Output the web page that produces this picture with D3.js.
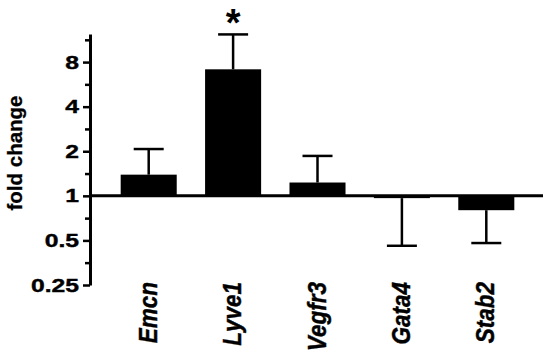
<!DOCTYPE html>
<html>
<head>
<meta charset="utf-8">
<script src="https://cdn.jsdelivr.net/npm/d3@7"></script>
<style>
    body { margin: 0; background: #fff; }
    svg { display: block; }
    .axis path, .axis line { stroke: #000; }
    .axis text { font-family: "Liberation Sans", Arial, sans-serif; font-weight: bold; fill: #000; stroke: #000; stroke-width: 0.4; }
</style>
</head>
<body>
<svg id="chart"></svg>
<script>
// gene names, mean fold change and upper/lower error ends
const genes = ["Emcn", "Lyve1", "Vegfr3", "Gata4", "Stab2"];
const foldChange = [1.39, 7.15, 1.23, 0.965, 0.80];
const errorEnd = [2.07, 12.3, 1.86, 0.46, 0.48];
const significant = [false, true, false, false, false];
const yTicks = [0.25, 0.5, 1, 2, 4, 8];
const yMinorTicks = [0.354, 0.707, 1.414, 2.83, 5.66, 11.31];

const width = 550, height = 357;
const font = "Liberation Sans, Arial, sans-serif";

const svg = d3.select("#chart")
    .attr("width", width)
    .attr("height", height);

const data = genes.map((g, i) => ({
    gene: g,
    value: foldChange[i],
    err: errorEnd[i],
    star: significant[i]
}));

const xscale = d3.scaleBand()
    .domain(genes)
    .range([106.5, 528.5])
    .paddingInner(0.336)
    .paddingOuter(0.168);

const yscale = d3.scaleLog()
    .base(2)
    .domain([0.25, Math.pow(2, 3.63)])
    .range([285, 34]);

const axisX = 90;

// minor ticks
svg.append("g")
    .attr("class", "axis")
    .attr("transform", `translate(${axisX}, 0)`)
    .call(d3.axisLeft(yscale).tickValues(yMinorTicks).tickSize(5).tickFormat(""))
    .call(g => g.select(".domain").remove())
    .selectAll("line").attr("stroke-width", 2.5);

// major ticks + axis line
const yaxisGroup = svg.append("g")
    .attr("class", "axis")
    .attr("transform", `translate(${axisX}, 0)`)
    .call(d3.axisLeft(yscale)
        .tickValues(yTicks)
        .tickSize(7)
        .tickSizeOuter(0)
        .tickPadding(4)
        .tickFormat(d => String(d)));
yaxisGroup.select(".domain").attr("stroke-width", 3);
yaxisGroup.selectAll("line").attr("stroke-width", 2.5);
// labels are drawn a bit wide, like the original
const stretch = 1.3;
yaxisGroup.selectAll("text")
    .attr("font-size", 19)
    .attr("x", -11 / stretch)
    .attr("transform", `scale(${stretch},1)`);

// y title
svg.append("text")
    .attr("transform", `translate(22, 153) rotate(-90)`)
    .attr("text-anchor", "middle")
    .attr("font-family", font)
    .attr("font-weight", "bold")
    .attr("font-size", 20.5)
    .attr("stroke", "#000")
    .attr("stroke-width", 0.3)
    .text("fold change");

const y1 = yscale(1);

// bars from the baseline at 1
svg.selectAll(".bar")
    .data(data)
    .join("rect")
    .attr("class", "bar")
    .attr("x", d => xscale(d.gene))
    .attr("width", xscale.bandwidth())
    .attr("y", d => Math.min(yscale(d.value), y1))
    .attr("height", d => Math.abs(yscale(d.value) - y1))
    .attr("fill", "#000");

// one-sided error bars
const capW = 30;
svg.selectAll(".err")
    .data(data)
    .join("line")
    .attr("class", "err")
    .attr("x1", d => xscale(d.gene) + xscale.bandwidth() / 2)
    .attr("x2", d => xscale(d.gene) + xscale.bandwidth() / 2)
    .attr("y1", d => yscale(d.value))
    .attr("y2", d => yscale(d.err))
    .attr("stroke", "#000")
    .attr("stroke-width", 2.5);

svg.selectAll(".cap")
    .data(data)
    .join("line")
    .attr("class", "cap")
    .attr("x1", d => xscale(d.gene) + xscale.bandwidth() / 2 - capW / 2)
    .attr("x2", d => xscale(d.gene) + xscale.bandwidth() / 2 + capW / 2)
    .attr("y1", d => yscale(d.err))
    .attr("y2", d => yscale(d.err))
    .attr("stroke", "#000")
    .attr("stroke-width", 2.5);

// baseline at fold change 1
svg.append("line")
    .attr("x1", axisX)
    .attr("x2", 543)
    .attr("y1", y1)
    .attr("y2", y1)
    .attr("stroke", "#000")
    .attr("stroke-width", 3);

// significance star
svg.selectAll(".star")
    .data(data.filter(d => d.star))
    .join("text")
    .attr("class", "star")
    .attr("x", d => xscale(d.gene) + xscale.bandwidth() / 2)
    .attr("y", 36)
    .attr("text-anchor", "middle")
    .attr("font-family", font)
    .attr("font-weight", "bold")
    .attr("font-size", 38)
    .text("*");

// category labels
svg.selectAll(".gene")
    .data(data)
    .join("text")
    .attr("class", "gene")
    .attr("transform", d => `translate(${xscale(d.gene) + xscale.bandwidth() / 2 + 8}, 282) rotate(-90) scale(1, 1.12)`)
    .attr("text-anchor", "end")
    .attr("font-family", font)
    .attr("font-weight", "bold")
    .attr("font-style", "italic")
    .attr("font-size", 22.5)
    .attr("stroke", "#000")
    .attr("stroke-width", 0.4)
    .text(d => d.gene);
</script>
</body>
</html>
